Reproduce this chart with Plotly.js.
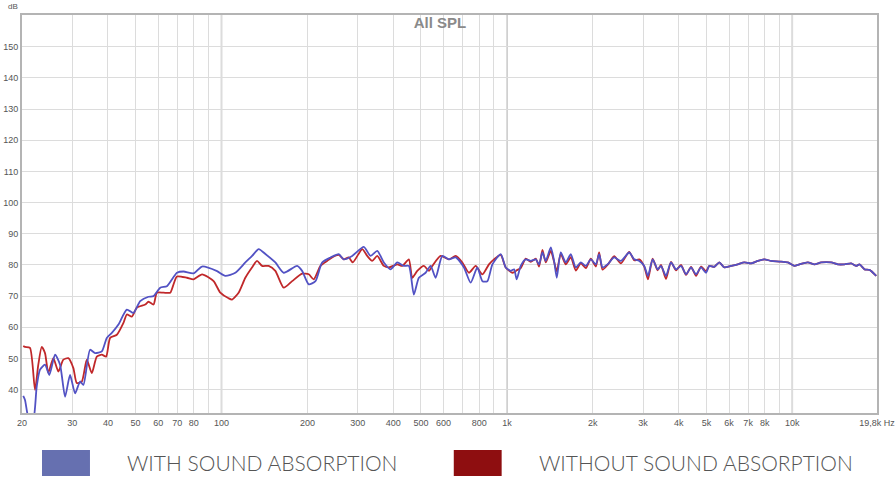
<!DOCTYPE html>
<html>
<head>
<meta charset="utf-8">
<script src="https://cdn.plot.ly/plotly-3.0.1.min.js"></script>
<style>
html,body{margin:0;padding:0;background:#fff;}
#chart{width:896px;height:477px;}
</style>
</head>
<body>
<div id="chart"></div>
<script>
// ---- data ----
const seriesNames = ["WITH SOUND ABSORPTION", "WITHOUT SOUND ABSORPTION"];

const freqWith = [20.2,20.49,21.21,21.86,22.52,23.13,24.08,24.94,26.11,27.19,28.31,29.47,30.69,31.96,32.82,34.64,36.07,38.08,39.64,41.28,43.54,46.6,49.16,51.89,55.49,57.78,60.99,64.38,69.81,73.63,79.8,85.5,96.5,103.1,111.8,121.2,128,135,142.5,154.4,165.2,184,191.6,202.1,213.4,225.2,240.8,257.5,268.1,287,315.2,332.8,351.3,370.5,391.1,412.8,435.4,453.3,472,491.6,518.9,540.4,562.6,593.9,626.5,661.3,707.1,746.5,787.9,820.5,854.3,889.5,951.2,990.4,1031,1060,1082,1118,1164,1212,1262,1296,1332,1368,1425,1463,1495,1544,1608,1674,1743,1815,1890,1968,2049,2104,2163,2252,2376,
  2508,2682,2793,2908,3028,3120,3240,3374,3466,3608,3757,3912,4074,4242,4417,4599,4786,4984,5118,5329,5548,5778,6098,6438,6790,7169,7571,7981,8426,9010,9644,10172,10592,11334,11954,12619,13681,14443,15234,16081,16744,17197,17906,18644,19680];
const dbWith = [38,36.7,30,30,41,46.4,48,44.7,51.2,48,37.7,44.7,38.8,42.6,41.5,52.8,51.7,52.3,56.6,58.2,60.9,65.7,64.6,68.4,69.8,70,72.7,73.2,77.5,77.9,77.3,79.5,78,76.5,77.5,80.8,82.9,85.1,83.5,80.8,77.5,79.7,78.1,73.8,74.8,80.8,82.4,83.5,81.8,82.9,85.8,82.9,84.5,80.8,78.6,80.8,79.7,79.7,70.5,75.9,77.5,79.7,75.9,82.9,81.8,82.4,79.2,74.3,79.2,74.8,74.8,80.2,83.5,79.2,78.1,78.6,75.4,79.7,81.8,81.3,81.8,80.2,84,81.3,85.6,81.3,75.9,84,80.8,83.5,79.2,80.8,79.7,81.8,80.2,83.5,79.2,80.2,82.4,
  81.3,84,81.8,81.3,79.7,76.5,81.8,78.6,79.7,76.5,80.8,78.6,79.7,77,79.2,77,79.2,77.5,79.7,79.4,80.8,79.2,79.7,80.2,80.8,80.5,81.3,81.8,81.3,81.1,80.8,79.7,80.2,80.8,80.2,80.8,80.8,80.2,80.2,80.5,79.7,80.2,78.6,78.4,76.5];

const freqWithout = [20.2,20.49,21.33,22.21,22.81,23.45,24.08,24.73,25.75,26.82,27.92,29.07,30.27,31.11,32.4,33.73,35.12,36.57,38.08,39.42,40.72,42.98,45.34,46.6,48.52,50.52,54.03,55.49,57.78,59.39,62.65,66.13,67.59,69.81,75.68,79.81,85.5,93.84,99.05,105.9,108.9,114.8,121.2,127.9,133.2,138.7,146.3,154.4,165.2,176.8,191.6,202.1,210.4,222.2,234.5,244.1,257.5,268.1,279.2,288.4,311.2,324,337.3,351.3,370.5,385.8,412.8,429.8,453.3,466,485.2,511.8,533,547.8,585.7,626.5,661.3,698.1,736.3,777.2,820.5,865.2,901.1,951.2,990.4,1045,1074,1082,1118,1164,1212,1262,1296,1332,1368,1425,1463,1495,1544,1608,1674,1743,1815,1890,1968,2049,2104,2163,2252,2376,
  2508,2682,2793,2908,3028,3120,3240,3374,3466,3608,3757,3912,4074,4242,4417,4599,4786,4984,5118,5329,5548,5778,6098,6438,6790,7169,7571,7981,8426,9010,9644,10172,10592,11334,11954,12619,13681,14443,15234,16081,16744,17197,17906,18644,19680];
const dbWithout = [54,53.7,53.4,39.9,48,53.7,51.7,45.4,50.1,45.8,49.6,50.1,46.9,42.1,42.6,49.6,45.3,50.6,51.2,50.6,56.6,57.6,61.4,64.1,63.4,66.3,67.3,68.2,67.3,71.1,71.1,71.1,73.2,76.3,75.9,75.4,77,74.8,71.1,69.3,68.9,71.1,75.9,79.2,81.3,79.7,79.7,78.1,72.7,74.8,77.2,77,75.4,79.7,81.3,82.4,83.2,81.8,82.4,80.8,85.1,82.9,81.3,82.9,79.7,79.2,80.2,79.7,81.8,75.9,78.1,79.7,78.1,79.7,82.9,81.8,82.9,80.8,77.5,79.7,77,80.2,81.8,83.2,79.2,77.5,78,78.3,79,82,81,82,79.5,84.8,80.8,84.5,81,78,83.5,80.2,82.5,78.2,80.5,79,82,79.5,84,78.5,80,82.8,
  80.5,84.2,81.5,81.8,79.5,75.4,82,78.3,80,75.5,81,78.3,80,76.8,79.4,76.5,79.5,78,79.7,79.4,80.8,79.2,79.7,80.2,80.8,80.5,81.3,81.8,81.3,81.1,80.8,79.7,80.2,80.8,80.2,80.8,80.8,80.2,80.2,80.5,79.7,80.2,78.6,78.4,76.5];

const xTickVals = [20,30,40,50,60,70,80,90,100,200,300,400,500,600,700,800,900,1000,2000,3000,4000,5000,6000,7000,8000,9000,10000,19800];
const xTickText = ["20","30","40","50","60","70","80","","100","200","300","400","500","600","","800","","1k","2k","3k","4k","5k","6k","7k","8k","","10k","19,8k Hz"];
const yTickVals = [40,50,60,70,80,90,100,110,120,130,140,150];
const decadeLines = [100,1000,10000];

// ---- styling ----
const colWith = "#5252c4";
const colWithout = "#c0282a";
const swWith = "#6670b0";
const swWithout = "#8e0e10";

const traces = [
  {x: freqWithout, y: dbWithout, type: "scatter", mode: "lines", name: seriesNames[1],
   line: {color: colWithout, width: 1.8, shape: "spline", smoothing: 0.6}, showlegend: false},
  {x: freqWith, y: dbWith, type: "scatter", mode: "lines", name: seriesNames[0],
   line: {color: colWith, width: 1.8, shape: "spline", smoothing: 0.6}, showlegend: false}
];

const shapes = decadeLines.map(v => ({
  type: "line", xref: "x", yref: "paper", x0: v, x1: v, y0: 0, y1: 1,
  line: {color: "#b8b8b8", width: 1.5}, layer: "below"
}));
// legend swatches
shapes.push({type: "rect", xref: "paper", yref: "paper", x0: 0.0234, x1: 0.0795, y0: -0.158, y1: -0.093,
  fillcolor: swWith, line: {width: 0}});
shapes.push({type: "rect", xref: "paper", yref: "paper", x0: 0.505, x1: 0.561, y0: -0.158, y1: -0.093,
  fillcolor: swWithout, line: {width: 0}});

const legendFont = {family: "Lato, 'Open Sans', sans-serif", size: 21, color: "#555555", weight: 300};
const annotations = [
  {text: seriesNames[0], xref: "paper", yref: "paper", x: 0.1205, y: -0.1256, xanchor: "left", yanchor: "middle",
   showarrow: false, font: legendFont},
  {text: seriesNames[1], xref: "paper", yref: "paper", x: 0.602, y: -0.1256, xanchor: "left", yanchor: "middle",
   showarrow: false, font: legendFont},
  {text: "dB", xref: "paper", yref: "paper", x: -0.002, y: 1.005, xanchor: "right", yanchor: "bottom",
   showarrow: false, font: {family: "Arial, 'Liberation Sans', sans-serif", size: 8, color: "#555"}}
];

const axisCommon = {
  showgrid: true, gridcolor: "#dcdcdc", gridwidth: 1, zeroline: false,
  showline: true, mirror: true, linecolor: "#b4b4b4", linewidth: 2,
  ticks: "", tickfont: {family: "Arial, 'Liberation Sans', sans-serif", size: 9, color: "#555"}
};

const layout = {
  width: 896, height: 477,
  margin: {l: 22, r: 19, t: 15, b: 64},
  paper_bgcolor: "#ffffff", plot_bgcolor: "#ffffff",
  title: {text: "All SPL", x: 0.491, xref: "container", xanchor: "center", y: 0.952, yref: "container", yanchor: "middle",
          font: {family: "Arial, 'Liberation Sans', sans-serif", size: 15, color: "#8a8a8a", weight: "bold"}},
  xaxis: Object.assign({}, axisCommon, {type: "log", range: [Math.log10(20), Math.log10(19800)],
          tickmode: "array", tickvals: xTickVals, ticktext: xTickText, tickangle: 0}),
  yaxis: Object.assign({}, axisCommon, {range: [32.5, 160.2], tickmode: "array", tickvals: yTickVals}),
  shapes: shapes,
  annotations: annotations,
  showlegend: false
};

Plotly.newPlot("chart", traces, layout, {displayModeBar: false, staticPlot: true});
</script>
</body>
</html>
